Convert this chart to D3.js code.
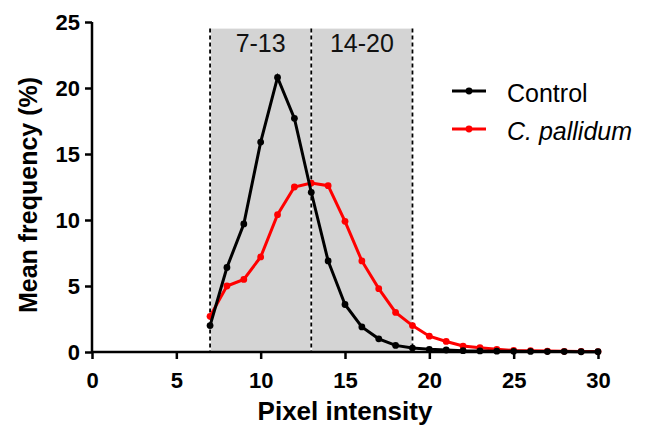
<!DOCTYPE html>
<html><head><meta charset="utf-8">
<script src="https://cdn.jsdelivr.net/npm/d3@7"></script>
<style>body{margin:0;background:#fff}svg{display:block}</style>
</head><body>
<svg id="c" width="650" height="433"></svg>
<script>
const xValues = [7,8,9,10,11,12,13,14,15,16,17,18,19,20,21,22,23,24,25,26,27,28,29,30];
const control = [2.0,6.4,9.7,15.9,20.8,17.7,12.1,6.9,3.6,1.9,1.0,0.5,0.3,0.2,0.15,0.1,0.08,0.06,0.05,0.04,0.03,0.03,0.02,0.02];
const pallidum = [2.7,5.0,5.5,7.2,10.4,12.5,12.8,12.6,9.9,6.9,4.8,3.0,2.0,1.2,0.8,0.45,0.33,0.2,0.12,0.1,0.07,0.05,0.04,0.03];
const xTicks = [0,5,10,15,20,25,30];
const yTicks = [0,5,10,15,20,25];
const regions = [{from:7,to:13,label:"7-13"},{from:13,to:19,label:"14-20"}];
const seriesNames = ["Control","C. pallidum"];
const seriesColors = ["#000000","#ff0000"];

const svg = d3.select("#c");
const x = d3.scaleLinear().domain([0,30]).range([92,598]);
const y = d3.scaleLinear().domain([0,25]).range([352,22]);
const font = "'Liberation Sans', Arial, sans-serif";

// shaded regions
svg.append("rect").attr("x", x(7)).attr("y", y(24.5)).attr("width", x(19)-x(7)).attr("height", y(0)-y(24.5)).attr("fill","#d4d4d4");
[7,13,19].forEach(v=>{
  svg.append("line").attr("x1",x(v)).attr("x2",x(v)).attr("y1",y(24.5)).attr("y2",y(0))
    .attr("stroke","#fff").attr("stroke-width",1.8);
  svg.append("line").attr("x1",x(v)).attr("x2",x(v)).attr("y1",y(24.5)).attr("y2",y(0))
    .attr("stroke","#000").attr("stroke-width",1.8).attr("stroke-dasharray","4,3");
});
regions.forEach(r=>{
  svg.append("text").attr("x",(x(r.from)+x(r.to))/2).attr("y",52).attr("text-anchor","middle")
    .attr("font-family",font).attr("font-size",25).attr("fill","#111").text(r.label);
});

// axes
const xAxis = svg.append("g").attr("transform",`translate(0,${y(0)})`)
  .call(d3.axisBottom(x).tickValues(xTicks).tickSize(7).tickPadding(13));
const yAxis = svg.append("g").attr("transform",`translate(${x(0)},0)`)
  .call(d3.axisLeft(y).tickValues(yTicks).tickSize(7).tickPadding(5));
[xAxis,yAxis].forEach(a=>{
  a.select(".domain").attr("stroke","#000").attr("stroke-width",2.5);
  a.selectAll(".tick line").attr("stroke","#000").attr("stroke-width",2.5);
  a.selectAll(".tick text").attr("font-family",font).attr("font-weight","bold").attr("font-size",22).attr("fill","#000");
});
xAxis.select(".domain").attr("d",`M${x(0)},0H${x(30)}`);
yAxis.select(".domain").attr("d",`M0,${y(25)}V${y(0)}`);

svg.append("text").attr("x",(x(0)+x(30))/2).attr("y",420).attr("text-anchor","middle")
  .attr("font-family",font).attr("font-weight","bold").attr("font-size",26).text("Pixel intensity");
svg.append("text").attr("transform",`translate(37,195) rotate(-90)`).attr("text-anchor","middle")
  .attr("font-family",font).attr("font-weight","bold").attr("font-size",25).text("Mean frequency (%)");

// series
const line = d3.line().x(d=>x(d[0])).y(d=>y(d[1]));
[pallidum, control].forEach((vals,i)=>{
  const idx = i===0 ? 1 : 0;
  const pts = xValues.map((v,j)=>[v,vals[j]]);
  svg.append("path").datum(pts).attr("d",line).attr("fill","none")
    .attr("stroke",seriesColors[idx]).attr("stroke-width",3);
  svg.selectAll(null).data(pts).enter().append("circle")
    .attr("cx",d=>x(d[0])).attr("cy",d=>y(d[1])).attr("r",3.4).attr("fill",seriesColors[idx]);
});

// legend
seriesNames.forEach((n,i)=>{
  const ly = 91 + i*38;
  svg.append("line").attr("x1",452).attr("x2",486).attr("y1",ly).attr("y2",ly).attr("stroke",seriesColors[i]).attr("stroke-width",3);
  svg.append("circle").attr("cx",469).attr("cy",ly).attr("r",3.4).attr("fill",seriesColors[i]);
  svg.append("text").attr("x",507).attr("y",ly+11).attr("font-family",font).attr("font-size",25)
    .attr("font-style", i===1?"italic":"normal").attr("fill","#000").text(n);
});
</script>
</body></html>
